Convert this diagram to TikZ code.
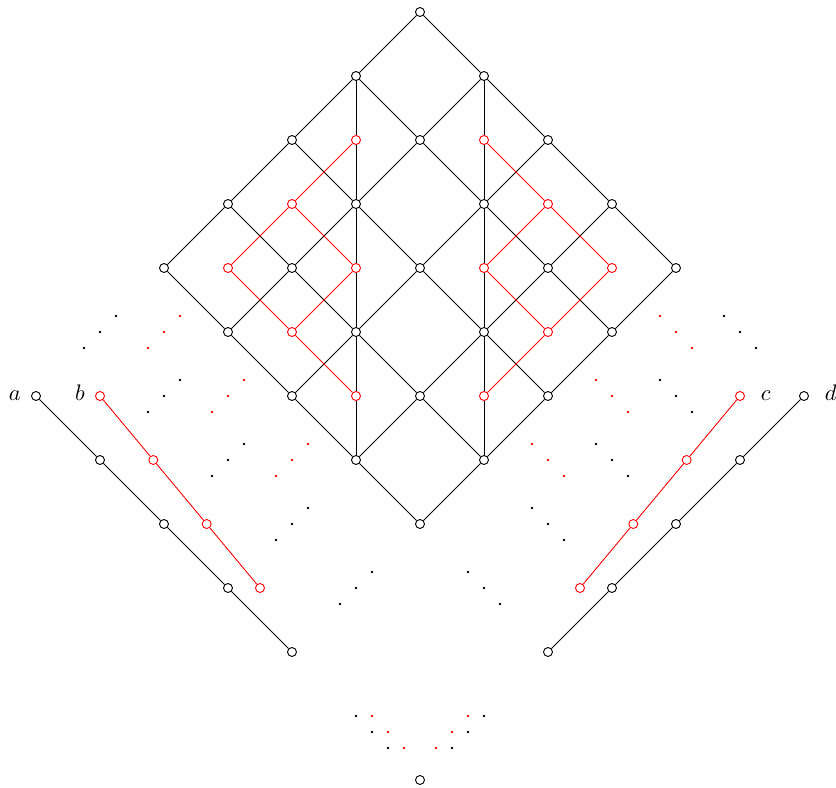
\documentclass[tikz,border=0pt]{standalone}

\tikzset{
  vtx/.style={circle,draw,fill=white,inner sep=0pt,minimum size=4pt},
  rvtx/.style={vtx,draw=red},
  lbl/.style={text height=1ex,text depth=0pt}
}
% three small dots around (#2,#3); #4=1 runs down-right, #4=-1 runs down-left
\newcommand{\trio}[4]{%
  \foreach \s in {-0.25,0,0.25} \fill[#1] ({#2+#4*\s},{#3-\s}) circle (0.6pt);}

\begin{document}
\begin{tikzpicture}
  \useasboundingbox (-6.5625,0.1875) rectangle (6.5,-12.11);

  % the lattice
  \node[vtx] (v40) at (0,0) {};
  \node[vtx] (v31) at (-1,-1) {};
  \node[vtx] (v51) at (1,-1) {};
  \node[vtx] (v22) at (-2,-2) {};
  \node[rvtx] (v32) at (-1,-2) {};
  \node[vtx] (v42) at (0,-2) {};
  \node[rvtx] (v52) at (1,-2) {};
  \node[vtx] (v62) at (2,-2) {};
  \node[vtx] (v13) at (-3,-3) {};
  \node[rvtx] (v23) at (-2,-3) {};
  \node[vtx] (v33) at (-1,-3) {};
  \node[vtx] (v53) at (1,-3) {};
  \node[rvtx] (v63) at (2,-3) {};
  \node[vtx] (v73) at (3,-3) {};
  \node[vtx] (v04) at (-4,-4) {};
  \node[rvtx] (v14) at (-3,-4) {};
  \node[vtx] (v24) at (-2,-4) {};
  \node[rvtx] (v34) at (-1,-4) {};
  \node[vtx] (v44) at (0,-4) {};
  \node[rvtx] (v54) at (1,-4) {};
  \node[vtx] (v64) at (2,-4) {};
  \node[rvtx] (v74) at (3,-4) {};
  \node[vtx] (v84) at (4,-4) {};
  \node[vtx] (v15) at (-3,-5) {};
  \node[rvtx] (v25) at (-2,-5) {};
  \node[vtx] (v35) at (-1,-5) {};
  \node[vtx] (v55) at (1,-5) {};
  \node[rvtx] (v65) at (2,-5) {};
  \node[vtx] (v75) at (3,-5) {};
  \node[vtx] (v26) at (-2,-6) {};
  \node[rvtx] (v36) at (-1,-6) {};
  \node[vtx] (v46) at (0,-6) {};
  \node[rvtx] (v56) at (1,-6) {};
  \node[vtx] (v66) at (2,-6) {};
  \node[vtx] (v37) at (-1,-7) {};
  \node[vtx] (v57) at (1,-7) {};
  \node[vtx] (v48) at (0,-8) {};

  \draw (v40) -- (v31) -- (v22) -- (v13) -- (v04) -- (v15) -- (v26) -- (v37) -- (v48)
        -- (v57) -- (v66) -- (v75) -- (v84) -- (v73) -- (v62) -- (v51) -- (v40);
  \draw (v31) -- (v42) -- (v53) -- (v64) -- (v75);
  \draw (v22) -- (v33) -- (v44) -- (v55) -- (v66);
  \draw (v13) -- (v24) -- (v35) -- (v46) -- (v57);
  \draw (v51) -- (v42) -- (v33) -- (v24) -- (v15);
  \draw (v62) -- (v53) -- (v44) -- (v35) -- (v26);
  \draw (v73) -- (v64) -- (v55) -- (v46) -- (v37);
  \draw (v31) -- (v32) -- (v33) -- (v34) -- (v35) -- (v36) -- (v37);
  \draw (v51) -- (v52) -- (v53) -- (v54) -- (v55) -- (v56) -- (v57);

  \draw[red] (v32) -- (v23) -- (v14) -- (v25) -- (v36);
  \draw[red] (v23) -- (v34) -- (v25);
  \draw[red] (v52) -- (v63) -- (v74) -- (v65) -- (v56);
  \draw[red] (v63) -- (v54) -- (v65);

  % the chains
  \node[vtx,label={[lbl,label distance=1pt]left:$a$}] (a1) at (-6,-6) {};
  \node[vtx] (a2) at (-5,-7) {};
  \node[vtx] (a3) at (-4,-8) {};
  \node[vtx] (a4) at (-3,-9) {};
  \node[vtx] (a5) at (-2,-10) {};
  \draw (a1) -- (a2) -- (a3) -- (a4) -- (a5);

  \node[rvtx,label={[lbl,label distance=1pt]left:$b$}] (b1) at (-5,-6) {};
  \node[rvtx] (b2) at (-4.1667,-7) {};
  \node[rvtx] (b3) at (-3.3333,-8) {};
  \node[rvtx] (b4) at (-2.5,-9) {};
  \draw[red] (b1) -- (b2) -- (b3) -- (b4);

  \node[rvtx,label={[lbl,label distance=3.5pt]right:$c$}] (c1) at (5,-6) {};
  \node[rvtx] (c2) at (4.1667,-7) {};
  \node[rvtx] (c3) at (3.3333,-8) {};
  \node[rvtx] (c4) at (2.5,-9) {};
  \draw[red] (c1) -- (c2) -- (c3) -- (c4);

  \node[vtx,label={[lbl,label distance=3.5pt]right:$d$}] (d1) at (6,-6) {};
  \node[vtx] (d2) at (5,-7) {};
  \node[vtx] (d3) at (4,-8) {};
  \node[vtx] (d4) at (3,-9) {};
  \node[vtx] (d5) at (2,-10) {};
  \draw (d1) -- (d2) -- (d3) -- (d4) -- (d5);

  \node[vtx] (bot) at (0,-12) {};

  % dots
  \trio{black}{-5}{-5}{-1}
  \trio{red}{-4}{-5}{-1}
  \trio{black}{-4}{-6}{-1}
  \trio{red}{-3}{-6}{-1}
  \trio{black}{-3}{-7}{-1}
  \trio{red}{-2}{-7}{-1}
  \trio{black}{-2}{-8}{-1}
  \trio{black}{-1}{-9}{-1}

  \trio{black}{5}{-5}{1}
  \trio{red}{4}{-5}{1}
  \trio{black}{4}{-6}{1}
  \trio{red}{3}{-6}{1}
  \trio{black}{3}{-7}{1}
  \trio{red}{2}{-7}{1}
  \trio{black}{2}{-8}{1}
  \trio{black}{1}{-9}{1}

  \trio{black}{-0.75}{-11.25}{1}
  \trio{red}{-0.5}{-11.25}{1}
  \trio{red}{0.5}{-11.25}{-1}
  \trio{black}{0.75}{-11.25}{-1}
\end{tikzpicture}
\end{document}
